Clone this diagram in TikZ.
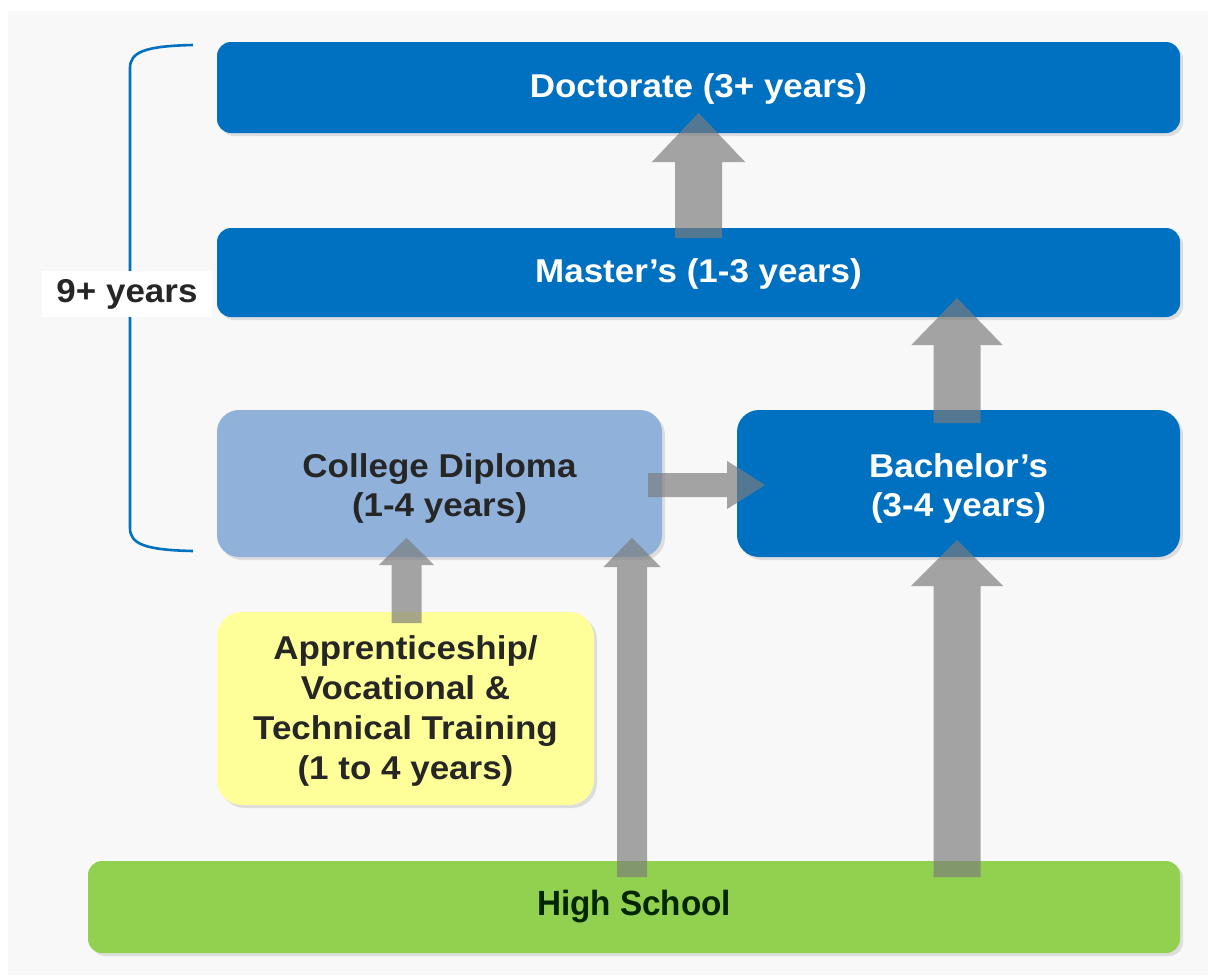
\documentclass[tikz,border=0pt]{standalone}
\usepackage{fontspec}
\setmainfont{Liberation Sans}[FakeStretch=1.06]
\newfontfamily\hsfont{Liberation Sans}[FakeStretch=0.95]
\usetikzlibrary{calc,shadows,arrows.meta}
\definecolor{bluebox}{HTML}{0070C0}
\definecolor{lightbluebox}{HTML}{8FB1DA}
\definecolor{yellowbox}{HTML}{FFFF99}
\definecolor{greenbox}{HTML}{92D050}
\definecolor{arrowgray}{HTML}{7C7C7C}
\definecolor{darktext}{HTML}{262626}
\definecolor{bgcol}{HTML}{F8F8F8}
\newcommand\lowered[2]{\raisebox{-#1}[\height][\depth]{\begin{tabular}{@{}c@{}}#2\end{tabular}}}
\begin{document}
\begin{tikzpicture}[x=1pt,y=-1pt,
  box/.style={rounded corners=14pt, inner sep=0pt, outer sep=0pt,
    font=\bfseries\fontsize{33}{39}\selectfont,
    drop shadow={shadow xshift=3pt,shadow yshift=-3pt,opacity=0.22}},
  bluestyle/.style={box, fill=bluebox, text=white},
  blockarrow/.style n args={3}{draw=arrowgray, line width=#1,
    -{Triangle[width=#2,length=#3,line width=0.1pt]}}
]
\useasboundingbox (0,0) rectangle (1208,975);
\fill[white] (0,0) rectangle (1208,975);
\fill[bgcol] (8,11) rectangle (1208,975);

% boxes
\node[bluestyle, minimum width=963pt, minimum height=91pt] (doc) at (698.5,87.5) {\lowered{2pt}{Doctorate (3+ years)}};
\node[bluestyle, minimum width=963pt, minimum height=89pt] (mas) at (698.5,272.5) {\lowered{2pt}{Master’s (1-3 years)}};
\node[box, rounded corners=22pt, fill=lightbluebox, text=darktext, minimum width=445pt, minimum height=147pt] (col) at (439.5,483.5) {\lowered{6pt}{College Diploma\\(1-4 years)}};
\node[bluestyle, rounded corners=22pt, minimum width=443pt, minimum height=147pt] (bac) at (958.5,483.5) {\lowered{6pt}{Bachelor’s\\(3-4 years)}};
\node[box, rounded corners=25pt, fill=yellowbox, text=black!85, font=\bfseries\fontsize{33}{40}\selectfont, minimum width=377pt, minimum height=193pt] (app) at (405.5,708.5) {\lowered{3pt}{Apprenticeship/\\Vocational \&\\Technical Training\\(1 to 4 years)}};
\node[box, fill=greenbox, text=black!85!green, font=\hsfont\bfseries\fontsize{35}{40}\selectfont, minimum width=1092pt, minimum height=92pt] (hs) at (634,907) {High School};

% bracket
\coordinate (bt) at (193,45);
\coordinate (bb) at (193,551);
\draw[bluebox, line width=2.6pt] (bt) .. controls (145,46) and (130,52) .. (130,68) -- (130,528) .. controls (130,544) and (145,550) .. (bb);
\node[fill=white, inner xsep=14pt, inner ysep=8pt, text=darktext, font=\bfseries\fontsize{33}{39}\selectfont] (yrs) at (127,294) {9+ years};

% arrows
\begin{scope}[transparency group, opacity=0.68]
\draw[blockarrow={47pt}{93pt}{49pt}] ($(mas.north)+(0,10)$) -- ($(doc.south)+(0,-20)$);
\draw[blockarrow={47pt}{91pt}{47pt}] ($(bac.north)+(-1.5,13)$) -- ($(bac.north |- mas.south)+(-1.5,-19)$);
\draw[blockarrow={24pt}{48pt}{38pt}] ($(col.east)+(-14,1.5)$) -- ($(bac.west)+(28,1.5)$);
\draw[blockarrow={30pt}{55pt}{27pt}] ($(app.north)+(1,11)$) -- ($(app.north |- col.south)+(1,-19)$);
\draw[blockarrow={30pt}{57pt}{29pt}] ($(hs.north)+(-2,16)$) -- ($(hs.north |- col.south)+(-2,-19)$);
\draw[blockarrow={47pt}{92pt}{46pt}] ($(hs.north -| bac.north)+(-1.5,16)$) -- ($(bac.south)+(-1.5,-17)$);
\end{scope}
\end{tikzpicture}
\end{document}
